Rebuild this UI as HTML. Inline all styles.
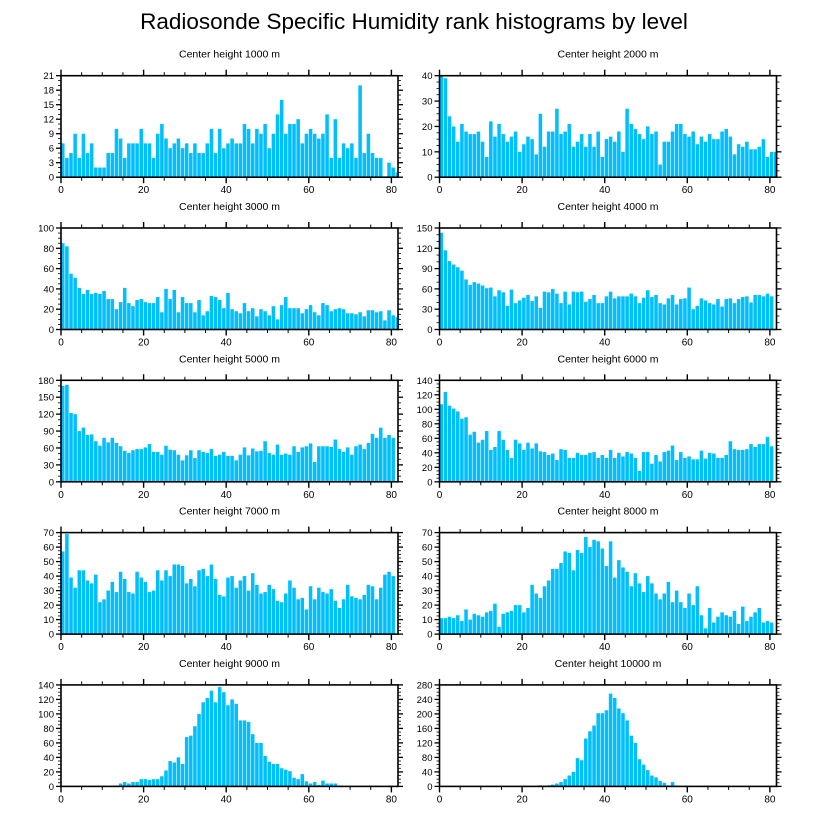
<!DOCTYPE html>
<html><head><meta charset="utf-8"><style>
html,body{margin:0;padding:0;background:#fff;}
svg{display:block;font-family:"Liberation Sans",Arial,sans-serif;}
</style></head><body>
<svg id="chart" width="816" height="824" viewBox="0 0 816 824" xmlns="http://www.w3.org/2000/svg">
<text x="414" y="29" font-size="22.5" text-anchor="middle" fill="#000">Radiosonde Specific Humidity rank histograms by level</text>
</svg>
<script>
const heights = [1000,2000,3000,4000,5000,6000,7000,8000,9000,10000];
const yMaxes = [21,40,100,150,180,140,70,70,140,280];
const yMajors = [3,10,20,30,30,20,10,10,20,40];
const xTicks = [0,20,40,60,80];
const h1000 = [7,4,5,9,4,9,5,7,2,2,2,5,5,10,8,4,7,7,7,10,7,7,4,9,11,8,6,7,8,6,7,5,7,5,5,7,10,5,10,6,7,8,7,7,11,10,7,10,9,11,6,9,13,16,9,11,11,12,7,9,10,9,8,9,13,4,12,4,7,6,7,4,19,5,9,5,4,4,0,3,2,1];
const h2000 = [40,39,24,20,14,21,18,17,17,18,14,8,22,16,21,17,14,16,18,10,13,16,15,9,25,12,18,18,27,17,18,21,12,14,17,12,17,12,18,8,15,16,14,18,10,27,21,19,17,15,20,17,18,5,14,14,18,21,21,17,16,18,13,16,14,17,15,15,18,19,16,9,13,12,14,11,11,12,15,8,10,10];
const h3000 = [85,82,55,51,41,35,39,35,36,35,38,30,30,20,27,41,26,23,29,30,27,26,26,32,17,40,30,39,17,32,26,26,17,29,14,18,33,32,29,21,36,20,18,16,26,18,21,13,20,18,14,23,10,24,32,21,21,21,16,20,24,17,14,26,24,18,20,21,20,16,16,15,17,13,19,19,17,18,9,19,14,12];
const h4000 = [143,117,101,96,92,87,74,66,70,68,65,61,62,49,58,55,35,59,39,43,47,51,42,49,32,56,55,60,53,39,56,37,56,55,56,41,45,51,39,39,49,56,46,49,49,49,53,49,39,47,58,48,51,39,37,46,51,37,45,46,62,30,35,46,43,39,37,45,34,45,46,39,45,48,49,40,51,51,49,53,49];
const h5000 = [170,172,122,120,90,96,83,84,72,64,78,70,78,69,63,55,51,56,58,58,61,67,53,53,48,64,57,56,48,38,47,56,42,56,53,51,58,46,48,53,46,46,38,48,61,47,59,54,55,72,51,48,66,48,50,48,63,53,61,63,68,35,63,63,63,62,75,58,53,61,48,63,66,58,69,85,78,96,78,83,78];
const h6000 = [107,124,105,101,97,87,89,65,69,54,58,70,44,48,70,58,44,33,58,53,44,54,46,53,42,41,37,39,30,45,44,33,33,40,37,37,40,41,33,37,33,44,33,40,35,41,39,33,15,41,41,25,37,28,41,43,50,30,41,33,35,31,31,43,32,40,39,33,33,37,56,45,44,44,45,52,48,52,52,62,49];
const h7000 = [57,69,39,32,44,44,37,35,41,22,24,30,36,29,43,38,29,28,43,39,36,29,30,44,37,44,40,48,48,47,35,38,33,44,45,40,48,38,27,26,39,40,32,37,40,30,42,34,28,29,34,31,23,22,28,37,32,24,25,17,33,24,32,29,28,31,23,18,24,34,26,25,24,27,34,33,24,32,41,43,40];
const h8000 = [11,11,12,11,13,9,17,10,14,13,12,15,16,21,5,14,15,16,20,20,15,18,34,28,25,33,37,45,45,49,57,56,44,58,56,67,60,65,64,59,47,64,39,51,46,43,33,42,35,29,40,35,28,24,28,36,22,30,22,18,28,20,33,13,4,18,8,12,15,13,12,16,7,19,9,12,15,18,8,9,8];
const h9000 = [0,0,0,0,0,0,0,0,1,0,1,0,1,1,4,6,4,6,6,10,10,9,10,10,14,22,35,33,40,31,68,70,83,100,116,122,132,116,137,130,112,120,114,91,91,89,72,60,60,42,34,31,31,25,23,21,12,10,17,7,4,6,2,8,4,4,4,1,0,0,0,0,0,1,1,0,1,0,0,0,0,0];
const h10000 = [0,0,0,0,0,0,0,0,0,0,0,0,0,0,0,0,0,0,0,0,0,0,0,2,3,2,3,5,8,12,20,30,40,78,72,132,152,168,202,202,210,256,244,215,202,182,140,120,75,60,45,30,25,15,10,3,12,1,0,2,2,0,0,0,2,0,0,0,0,0,0,0,0,0,0,0,0,0,0,0,0,0];
const series = [h1000,h2000,h3000,h4000,h5000,h6000,h7000,h8000,h9000,h10000];

const NS = "http://www.w3.org/2000/svg";
const svg = document.getElementById('chart');
const X_MAX = 81.6, PW = 337, PH = 101.5;
function mk(tag, attrs, parent){const e=document.createElementNS(NS,tag);for(const k in attrs)e.setAttribute(k,attrs[k]);parent.appendChild(e);return e;}

series.forEach((vals, p) => {
  const col = p % 2, row = Math.floor(p / 2);
  const left = col === 0 ? 61 : 439.5;
  const top = 75.7 + row * 152.3;
  const bottom = top + PH;
  const yMax = yMaxes[p], yMaj = yMajors[p];
  const xs = v => left + v / X_MAX * PW;
  const ys = v => bottom - v / yMax * PH;
  const g = mk('g', {}, svg);
  
  
  const t = mk('text', {x: left + PW/2, y: top - 18, 'font-size': 10.5, 'text-anchor': 'middle', fill: '#000'}, g);
  t.textContent = 'Center height ' + heights[p] + ' m';
  
  
  vals.forEach((v, i) => {
    if (v <= 0) return;
    const r = mk('rect', {x: xs(i), y: ys(Math.min(v, yMax)), width: Math.max(0, xs(i+1) - xs(i) - 0.6), height: bottom - ys(Math.min(v, yMax)), fill: '#00bfff'}, g);
    
    
  });
  const frame = mk('rect', {x: left, y: top, width: PW, height: PH, fill: 'none', stroke: '#000', 'stroke-width': 1.6}, g);
  
  
  for (let v = 0; v <= 80; v += 5) {
    const maj = v % 20 === 0, L = maj ? 6 : 3.5;
    mk('line', {x1: xs(v), x2: xs(v), y1: bottom, y2: bottom + L, stroke: '#000', 'stroke-width': maj ? 1.4 : 1}, g);
    mk('line', {x1: xs(v), x2: xs(v), y1: top, y2: top - L, stroke: '#000', 'stroke-width': maj ? 1.4 : 1}, g);
  }
  xTicks.forEach(v => {
    const tl = mk('text', {x: xs(v), y: bottom + 16, 'font-size': 10, 'text-anchor': 'middle', fill: '#000'}, g);
    tl.textContent = v;
    
    
  });
  const minor = yMaj / (yMaj % 3 === 0 ? 3 : 4);
  for (let v = 0; v <= yMax + 1e-9; v += minor) {
    const maj = Math.abs(v / yMaj - Math.round(v / yMaj)) < 1e-6, L = maj ? 5 : 3;
    mk('line', {x1: left, x2: left - L, y1: ys(v), y2: ys(v), stroke: '#000', 'stroke-width': maj ? 1.3 : 0.8}, g);
    mk('line', {x1: left + PW, x2: left + PW + L, y1: ys(v), y2: ys(v), stroke: '#000', 'stroke-width': maj ? 1.3 : 0.8}, g);
  }
  for (let v = 0; v <= yMax + 1e-9; v += yMaj) {
    const yl = mk('text', {x: left - 7, y: ys(v) + 3.5, 'font-size': 9.5, 'text-anchor': 'end', fill: '#000'}, g);
    yl.textContent = Math.round(v);
    
    
  }
});
</script>
</body></html>
